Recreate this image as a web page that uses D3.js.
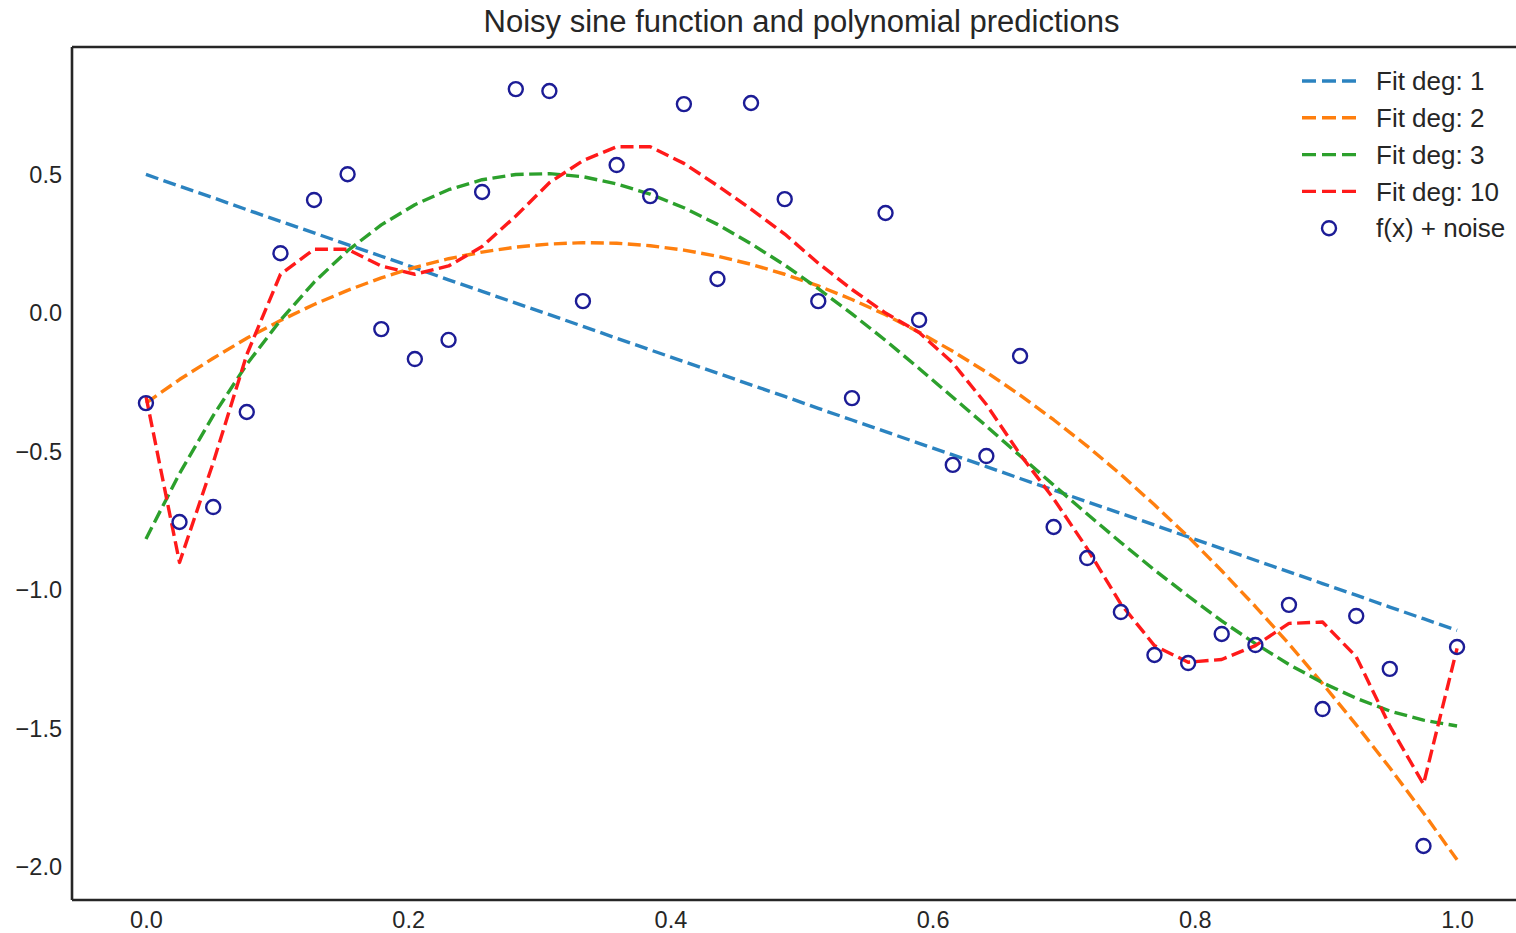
<!DOCTYPE html>
<html>
<head>
<meta charset="utf-8">
<script src="https://cdn.jsdelivr.net/npm/d3@7"></script>
<style>
  html, body { margin: 0; padding: 0; background: #ffffff; }
  svg { display: block; }
  text { font-family: "Liberation Sans", Arial, Helvetica, sans-serif; fill: #262626; }
</style>
</head>
<body>
<svg id="chart" width="1516" height="933"></svg>
<script>
// Sample positions: 40 evenly spaced points on [0, 1]
const xValues = [
  0.0000, 0.0256, 0.0513, 0.0769, 0.1026, 0.1282, 0.1538, 0.1795, 0.2051, 0.2308,
  0.2564, 0.2821, 0.3077, 0.3333, 0.3590, 0.3846, 0.4103, 0.4359, 0.4615, 0.4872,
  0.5128, 0.5385, 0.5641, 0.5897, 0.6154, 0.6410, 0.6667, 0.6923, 0.7179, 0.7436,
  0.7692, 0.7949, 0.8205, 0.8462, 0.8718, 0.8974, 0.9231, 0.9487, 0.9744, 1.0000
];

// Observations: f(x) + noise
const noisyValues = [
  -0.325, -0.754, -0.700, -0.357, 0.216, 0.408, 0.501, -0.058, -0.166, -0.097,
  0.437, 0.808, 0.801, 0.043, 0.534, 0.422, 0.754, 0.123, 0.758, 0.411,
  0.043, -0.307, 0.361, -0.025, -0.548, -0.516, -0.155, -0.772, -0.884, -1.079,
  -1.234, -1.263, -1.158, -1.198, -1.053, -1.429, -1.093, -1.284, -1.923, -1.205
];

// Polynomial predictions at the same positions
const fitDeg1 = [
  0.500, 0.458, 0.416, 0.373, 0.331, 0.289, 0.247, 0.205, 0.163, 0.120,
  0.078, 0.036, -0.006, -0.048, -0.091, -0.133, -0.175, -0.217, -0.259, -0.301,
  -0.344, -0.386, -0.428, -0.470, -0.512, -0.554, -0.597, -0.639, -0.681, -0.723,
  -0.765, -0.808, -0.850, -0.892, -0.934, -0.976, -1.018, -1.061, -1.103, -1.145
];
const fitDeg2 = [
  -0.325, -0.240, -0.163, -0.091, -0.027, 0.031, 0.082, 0.127, 0.165, 0.196,
  0.220, 0.238, 0.249, 0.254, 0.252, 0.243, 0.227, 0.205, 0.176, 0.140,
  0.098, 0.049, -0.006, -0.069, -0.138, -0.213, -0.296, -0.385, -0.480, -0.583,
  -0.692, -0.807, -0.930, -1.059, -1.194, -1.337, -1.486, -1.641, -1.804, -1.973
];
const fitDeg3 = [
  -0.815, -0.579, -0.370, -0.185, -0.026, 0.111, 0.225, 0.318, 0.391, 0.445,
  0.481, 0.500, 0.503, 0.492, 0.466, 0.429, 0.380, 0.320, 0.250, 0.173,
  0.088, -0.003, -0.099, -0.200, -0.304, -0.408, -0.515, -0.621, -0.725, -0.828,
  -0.927, -1.021, -1.111, -1.193, -1.268, -1.334, -1.390, -1.436, -1.469, -1.490
];
const fitDeg10 = [
  -0.30, -0.90, -0.54, -0.15, 0.14, 0.23, 0.23, 0.17, 0.14, 0.17,
  0.24, 0.35, 0.47, 0.55, 0.60, 0.60, 0.54, 0.46, 0.375, 0.285,
  0.18, 0.085, 0.00, -0.07, -0.18, -0.33, -0.51, -0.67, -0.85, -1.05,
  -1.20, -1.26, -1.25, -1.20, -1.12, -1.115, -1.24, -1.49, -1.70, -1.21
];

const seriesNames = ["Fit deg: 1", "Fit deg: 2", "Fit deg: 3", "Fit deg: 10"];
const seriesColors = ["#2b83c0", "#ff7f0e", "#2ca02c", "#ff1a1a"];
const markerLabel = "f(x) + noise";
const markerColor = "#1c1c96";

const xTicks = [0.0, 0.2, 0.4, 0.6, 0.8, 1.0];
const yTicks = [-2.0, -1.5, -1.0, -0.5, 0.0, 0.5];
const titleText = "Noisy sine function and polynomial predictions";

const fits = [fitDeg1, fitDeg2, fitDeg3, fitDeg10];

const svg = d3.select("#chart");
svg.append("rect").attr("width", 1516).attr("height", 933).attr("fill", "#ffffff");

// Plot area (the right edge runs past the canvas)
const plotLeft = 72, plotRight = 1531, plotTop = 47, plotBottom = 900;

const x = d3.scaleLinear().domain([-0.0564, 1.0564]).range([plotLeft, plotRight]);
const y = d3.scaleLinear().domain([-2.118, 0.96]).range([plotBottom, plotTop]);

const fmt = d => d3.format(".1f")(d).replace("-", "\u2212");

// Axes: labels only, no tick marks
const xAxis = svg.append("g")
  .attr("transform", `translate(0,${plotBottom})`)
  .call(d3.axisBottom(x).tickValues(xTicks).tickFormat(fmt).tickSize(0).tickPadding(11));
const yAxis = svg.append("g")
  .attr("transform", `translate(${plotLeft},0)`)
  .call(d3.axisLeft(y).tickValues(yTicks).tickFormat(fmt).tickSize(0).tickPadding(10));
[xAxis, yAxis].forEach(g => {
  g.select(".domain").remove();
  g.selectAll("text").style("font-size", "23.5px").attr("fill", "#2a2a2a")
    .style("font-family", '"Liberation Sans", Arial, sans-serif');
});

// Frame
const frame = svg.append("g").attr("fill", "none").attr("stroke", "#262626").attr("stroke-width", 2.6);
frame.append("line").attr("x1", plotLeft).attr("x2", plotLeft).attr("y1", plotTop).attr("y2", plotBottom);
frame.append("line").attr("x1", plotLeft).attr("x2", 1516).attr("y1", plotTop).attr("y2", plotTop);
frame.append("line").attr("x1", plotLeft).attr("x2", 1516).attr("y1", plotBottom).attr("y2", plotBottom);

// Fit lines
const line = d3.line().x((d, i) => x(xValues[i])).y(d => y(d));
const plot = svg.append("g");
fits.forEach((vals, k) => {
  plot.append("path")
    .datum(vals)
    .attr("d", line)
    .attr("fill", "none")
    .attr("stroke", seriesColors[k])
    .attr("stroke-width", 3.4)
    .attr("stroke-dasharray", "13,5.5")
    .attr("stroke-linejoin", "round");
});

// Observation markers
plot.selectAll("circle.obs")
  .data(noisyValues)
  .join("circle")
  .attr("class", "obs")
  .attr("cx", (d, i) => x(xValues[i]))
  .attr("cy", d => y(d))
  .attr("r", 7)
  .attr("fill", "none")
  .attr("stroke", markerColor)
  .attr("stroke-width", 2.4);

// Title
svg.append("text")
  .attr("x", (plotLeft + plotRight) / 2)
  .attr("y", 32)
  .attr("text-anchor", "middle")
  .style("font-size", "31px")
  .text(titleText);

// Legend
const legend = svg.append("g").attr("transform", "translate(1302,81)");
const rowGap = 36.8;
seriesNames.forEach((name, k) => {
  const row = legend.append("g").attr("transform", `translate(0,${k * rowGap})`);
  row.append("line").attr("x1", 0).attr("x2", 54).attr("y1", 0).attr("y2", 0)
    .attr("stroke", seriesColors[k]).attr("stroke-width", 3.4).attr("stroke-dasharray", "14,6");
  row.append("text").attr("x", 74).attr("y", 0).attr("dy", "0.35em")
    .style("font-size", "26px").text(name);
});
const mrow = legend.append("g").attr("transform", `translate(0,${4 * rowGap})`);
mrow.append("circle").attr("cx", 27).attr("cy", 0).attr("r", 7)
  .attr("fill", "none").attr("stroke", markerColor).attr("stroke-width", 2.4);
mrow.append("text").attr("x", 74).attr("y", 0).attr("dy", "0.35em")
  .style("font-size", "26px").text(markerLabel);
</script>
</body>
</html>
